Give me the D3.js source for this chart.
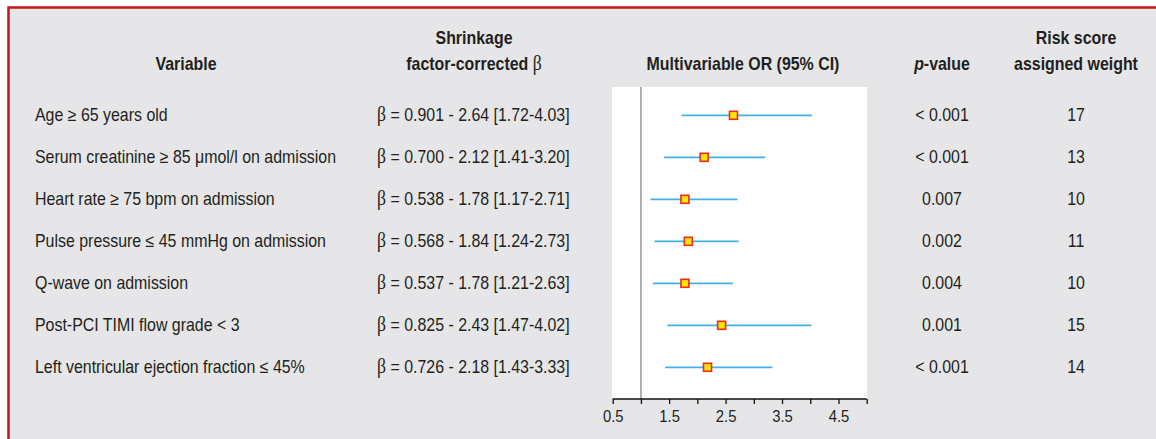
<!DOCTYPE html>
<html>
<head>
<meta charset="utf-8">
<script src="https://cdn.jsdelivr.net/npm/d3@7"></script>
<style>
html,body{margin:0;padding:0;background:#fff;}
svg{display:block;}
</style>
</head>
<body>
<svg id="chart" width="1156" height="439"></svg>
<script>
const variables = [
  "Age \u2265 65 years old",
  "Serum creatinine \u2265 85 \u03bcmol/l on admission",
  "Heart rate \u2265 75 bpm on admission",
  "Pulse pressure \u2264 45 mmHg on admission",
  "Q-wave on admission",
  "Post-PCI TIMI flow grade < 3",
  "Left ventricular ejection fraction \u2264 45%"
];
const betas = ["0.901", "0.700", "0.538", "0.568", "0.537", "0.825", "0.726"];
const oddsRatios = [2.64, 2.12, 1.78, 1.84, 1.78, 2.43, 2.18];
const ciLow = [1.72, 1.41, 1.17, 1.24, 1.21, 1.47, 1.43];
const ciHigh = [4.03, 3.20, 2.71, 2.73, 2.63, 4.02, 3.33];
const pValues = ["< 0.001", "< 0.001", "0.007", "0.002", "0.004", "0.001", "< 0.001"];
const weights = [17, 13, 10, 11, 10, 15, 14];
const xTicks = [0.5, 1, 1.5, 2, 2.5, 3, 3.5, 4, 4.5, 5];
const xTickLabels = ["0.5", "", "1.5", "", "2.5", "", "3.5", "", "4.5", ""];

const FONT = "'Liberation Sans', Arial, Helvetica, sans-serif";
const SERIF = "'Liberation Serif', 'DejaVu Serif', serif";
const TXT = "#231f20";
const CONDENSE = 0.885;

const svg = d3.select("#chart");
svg.append("rect").attr("x",0).attr("y",0).attr("width",1156).attr("height",439).attr("fill","#fff");
svg.append("rect").attr("x",8.5).attr("y",7.5).attr("width",1160).attr("height",450)
  .attr("fill","#e6e6e8").attr("stroke","#c5161d").attr("stroke-width",2.5);

// condensed text helper: positioned group, horizontally condensed text
function ctext(parent, xPos, yPos, opts = {}) {
  const g = parent.append("g").attr("transform", `translate(${xPos},${yPos}) scale(${CONDENSE},1)`);
  return g.append("text")
    .attr("text-anchor", opts.anchor || "start")
    .style("font-family", FONT)
    .style("font-size", (opts.size || 18) + "px")
    .style("font-weight", opts.bold ? "bold" : "normal")
    .attr("fill", TXT);
}

const x = d3.scaleLinear().domain([0.5, 5]).range([612.7, 866.7]);
const y = d3.scaleBand().domain(variables).range([94.3, 388.3]);
const yc = v => y(v) + y.bandwidth()/2;

// panel
svg.append("rect").attr("x",612).attr("y",87).attr("width",255).attr("height",312).attr("fill","#fff");

// reference line at OR = 1
svg.append("line").attr("x1",x(1)).attr("x2",x(1)).attr("y1",87).attr("y2",399)
  .attr("stroke","#a9a9ab").attr("stroke-width",1.8);

// axis
const axis = d3.axisBottom(x).tickValues(xTicks).tickSize(5).tickPadding(6)
  .tickFormat((d,i) => xTickLabels[i]);
const ag = svg.append("g").attr("transform","translate(0,399)").call(axis);
ag.select(".domain").attr("stroke","#111").attr("stroke-width",1.5).attr("d", `M${x(0.5)},0H${x(5)}`);
ag.selectAll(".tick line").attr("stroke","#111").attr("stroke-width",1.3);
ag.selectAll(".tick text").attr("fill",TXT).style("font-family",FONT).style("font-size","16.5px")
  .attr("transform", "scale(0.9,1)");

// header
ctext(svg, 186, 70, {anchor:"middle", bold:true}).text("Variable");
ctext(svg, 474, 44, {anchor:"middle", bold:true}).text("Shrinkage");
const fc = ctext(svg, 474, 70, {anchor:"middle", bold:true});
fc.append("tspan").text("factor-corrected ");
fc.append("tspan").style("font-family",SERIF).style("font-weight","normal").style("font-size","20px").text("\u03b2");
ctext(svg, 743, 70, {anchor:"middle", bold:true}).text("Multivariable OR (95% CI)");
const pv = ctext(svg, 942, 70, {anchor:"middle", bold:true});
pv.append("tspan").style("font-style","italic").text("p");
pv.append("tspan").text("-value");
ctext(svg, 1076, 44, {anchor:"middle", bold:true}).text("Risk score");
ctext(svg, 1076, 70, {anchor:"middle", bold:true}).text("assigned weight");

// rows
variables.forEach((v,i) => {
  const base = yc(v) + 5.8;
  ctext(svg, 35, base).text(v);
  const bt = ctext(svg, 377, base);
  bt.append("tspan").style("font-family",SERIF).style("font-size","20px").text("\u03b2");
  bt.append("tspan").text(` = ${betas[i]} - ${oddsRatios[i].toFixed(2)} [${ciLow[i].toFixed(2)}-${ciHigh[i].toFixed(2)}]`);
  ctext(svg, 942, base, {anchor:"middle"}).text(pValues[i]);
  ctext(svg, 1076, base, {anchor:"middle"}).text(weights[i]);
});

// CI lines and markers
const marks = svg.append("g");
variables.forEach((v,i) => {
  const cy = yc(v);
  marks.append("line").attr("x1",x(ciLow[i])).attr("x2",x(ciHigh[i])).attr("y1",cy).attr("y2",cy)
    .attr("stroke","#3fb2e6").attr("stroke-width",1.8);
  marks.append("rect").attr("x",x(oddsRatios[i])-4).attr("y",cy-4).attr("width",8).attr("height",8)
    .attr("fill","#ffe600").attr("stroke","#ee2a24").attr("stroke-width",1.6);
});
</script>
</body>
</html>
